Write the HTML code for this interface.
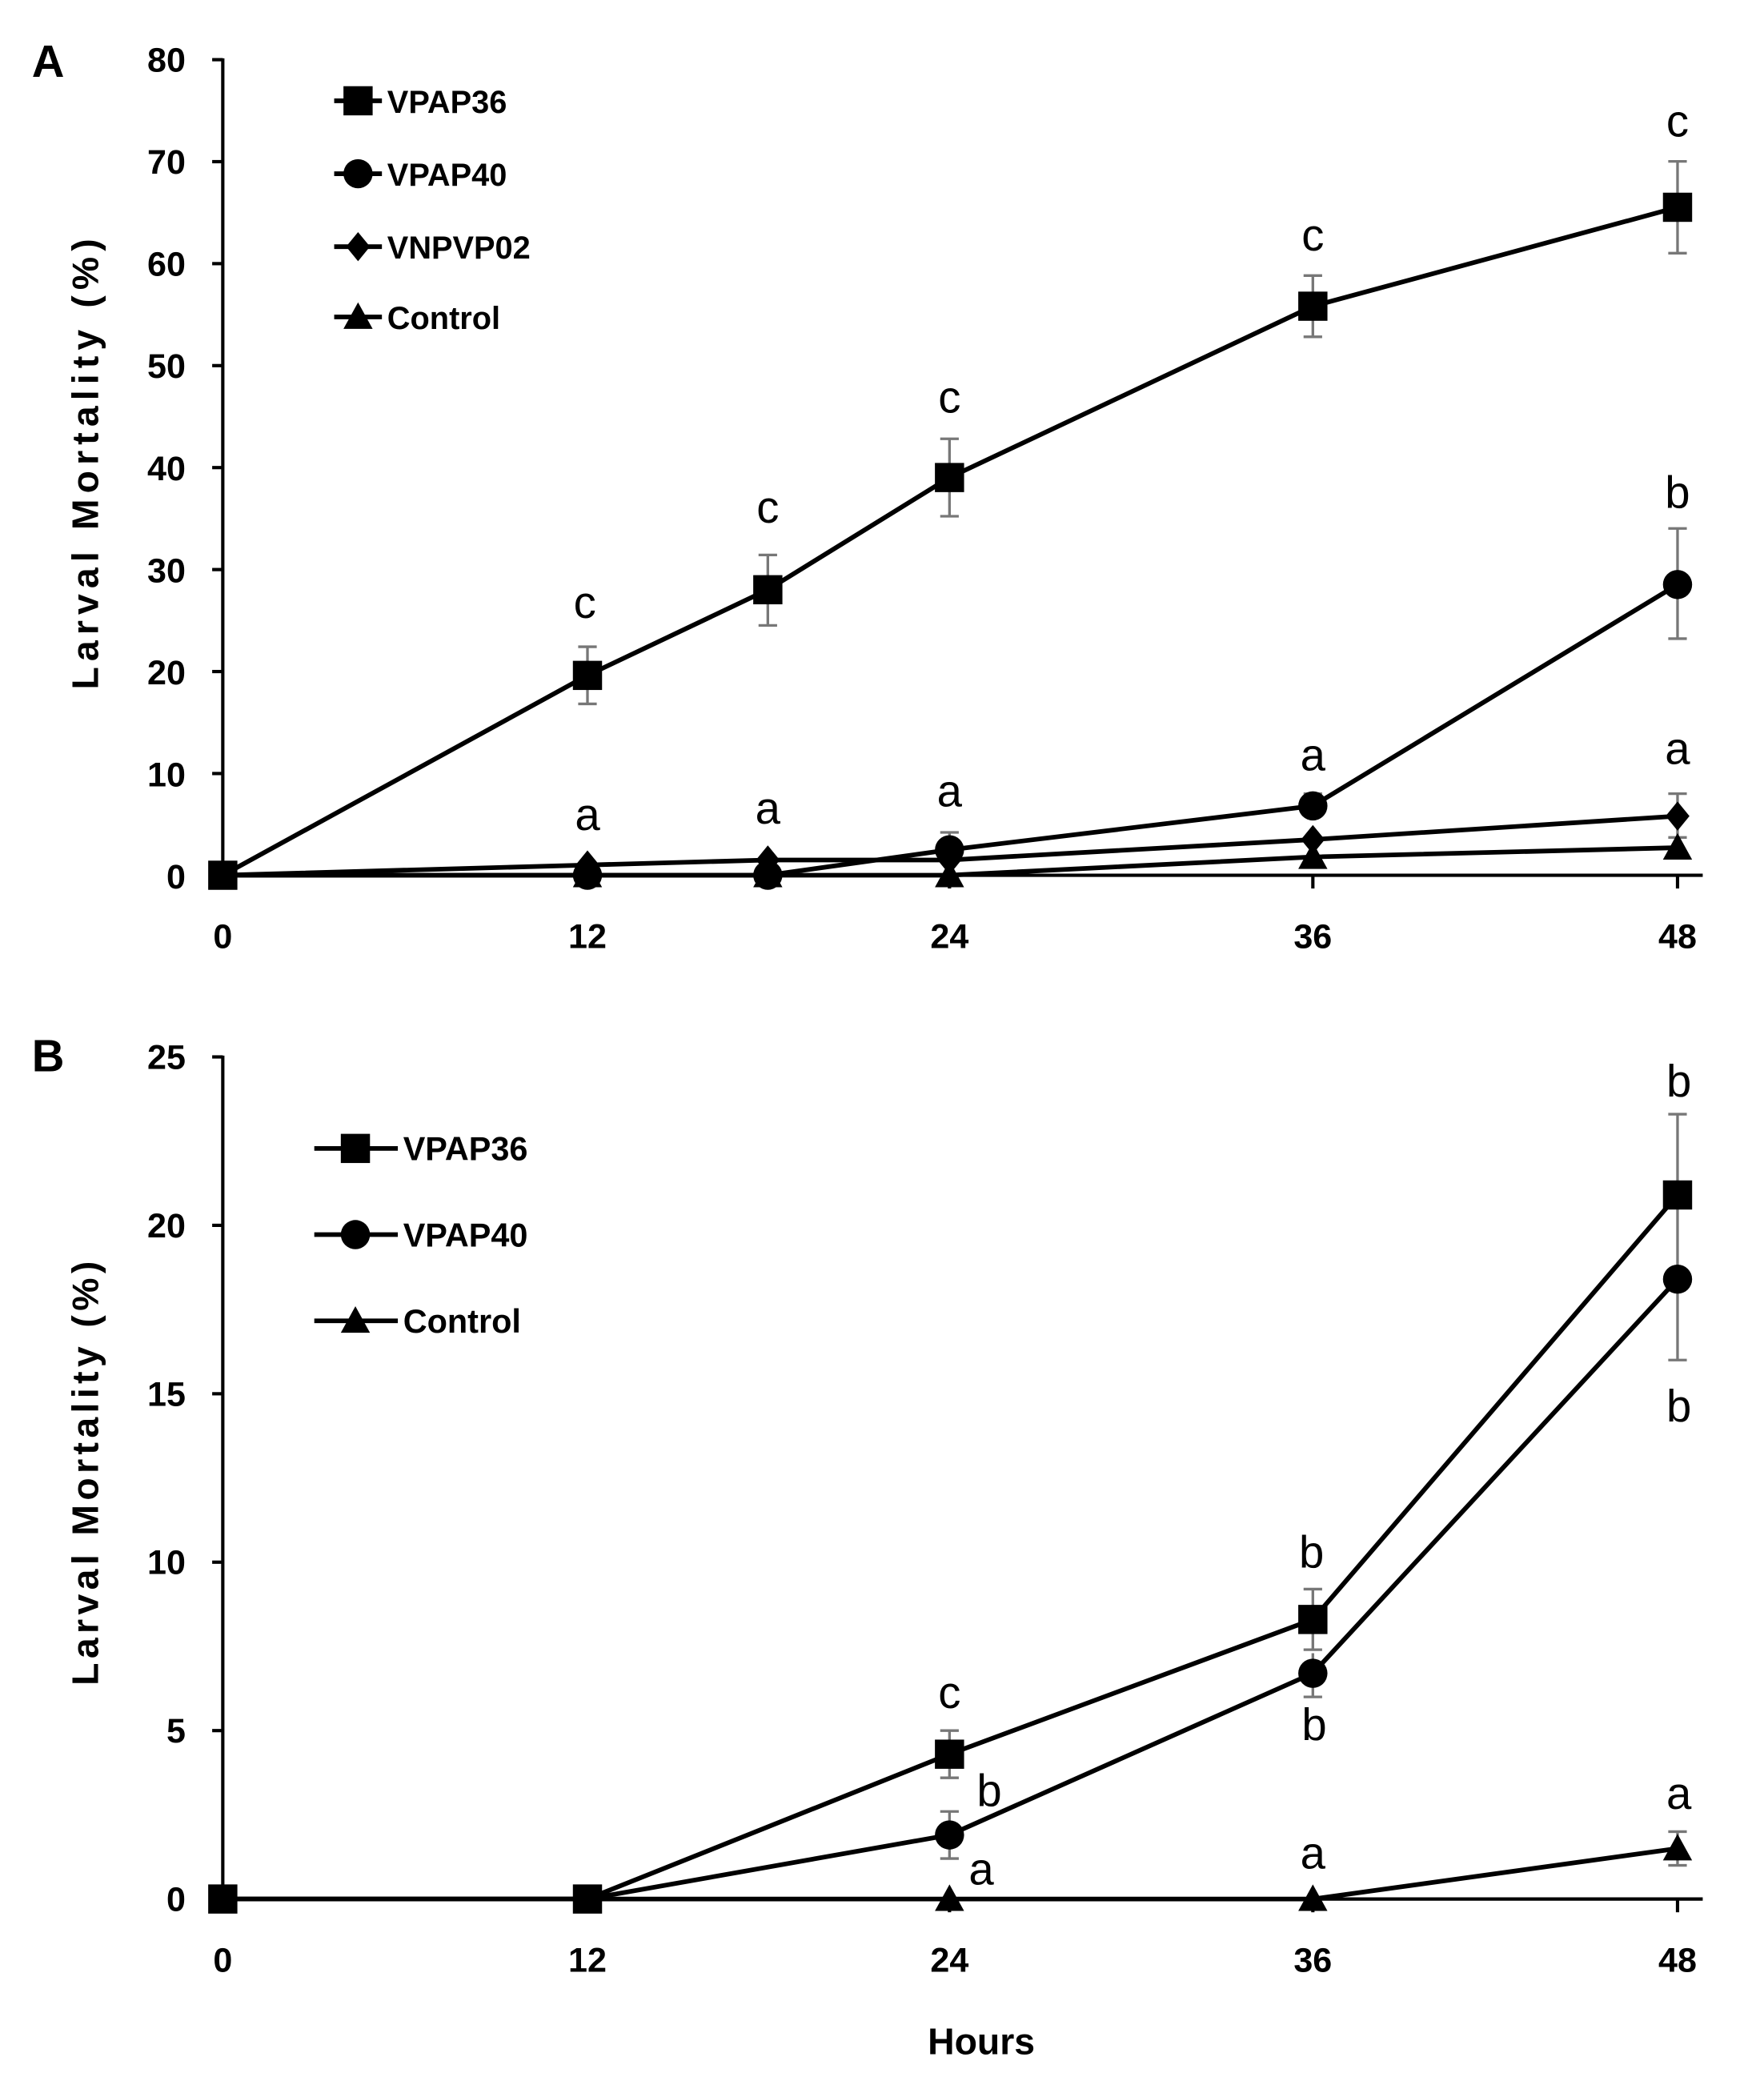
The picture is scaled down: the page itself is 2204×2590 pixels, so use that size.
<!DOCTYPE html>
<html><head><meta charset="utf-8"><style>html,body{margin:0;padding:0;background:#fff}svg{display:block}</style></head>
<body>
<svg width="2204" height="2590" viewBox="0 0 1330.2 1563.2" preserveAspectRatio="none" xmlns="http://www.w3.org/2000/svg" font-family="Liberation Sans, sans-serif">
<defs>
<g id="sq"><rect x="-11" y="-11" width="22" height="22" fill="#000"/></g>
<g id="ci"><circle r="11" fill="#000"/></g>
<g id="di"><polygon points="0,-11 9,0 0,11 -9,0" fill="#000"/></g>
<g id="tr"><polygon points="0,-11 11,9 -11,9" fill="#000"/></g>
</defs>
<rect width="1330.2" height="1563.2" fill="#fff"/>

<!-- Panel A -->
<text x="24" y="58" font-size="34" font-weight="bold">A</text>
<g stroke="#000" stroke-width="2.5" fill="none">
<line x1="168" y1="44" x2="168" y2="662"/>
<line x1="166" y1="660" x2="1284" y2="660"/>
<line x1="160" y1="45" x2="168" y2="45"/><line x1="160" y1="121.9" x2="168" y2="121.9"/><line x1="160" y1="198.8" x2="168" y2="198.8"/><line x1="160" y1="275.7" x2="168" y2="275.7"/><line x1="160" y1="352.6" x2="168" y2="352.6"/><line x1="160" y1="429.5" x2="168" y2="429.5"/><line x1="160" y1="506.4" x2="168" y2="506.4"/><line x1="160" y1="583.3" x2="168" y2="583.3"/><line x1="160" y1="660" x2="168" y2="660"/>
<line x1="443" y1="660" x2="443" y2="670"/><line x1="716" y1="660" x2="716" y2="670"/><line x1="990" y1="660" x2="990" y2="670"/><line x1="1265" y1="660" x2="1265" y2="670"/>
</g>
<g font-size="26" font-weight="bold" text-anchor="end">
<text x="140" y="54">80</text><text x="140" y="131">70</text><text x="140" y="208">60</text><text x="140" y="285">50</text><text x="140" y="362">40</text><text x="140" y="439">30</text><text x="140" y="516">20</text><text x="140" y="593">10</text><text x="140" y="670">0</text>
</g>
<g font-size="26" font-weight="bold" text-anchor="middle">
<text x="168" y="715">0</text><text x="443" y="715">12</text><text x="716" y="715">24</text><text x="990" y="715">36</text><text x="1265" y="715">48</text>
</g>
<text transform="translate(74,350) rotate(-90)" font-size="28" font-weight="bold" text-anchor="middle" textLength="340" lengthAdjust="spacing">Larval  Mortality  (%)</text>

<!-- error bars A -->
<g stroke="#777" stroke-width="2">
<path d="M443 487.7V530.8M436 487.7H450M436 530.8H450"/>
<path d="M579 418.5V471.6M572 418.5H586M572 471.6H586"/>
<path d="M716 330.9V389.3M709 330.9H723M709 389.3H723"/>
<path d="M990 207.8V254M983 207.8H997M983 254H997"/>
<path d="M1265 121.7V190.9M1258 121.7H1272M1258 190.9H1272"/>
<path d="M1265 398.5V481.6M1258 398.5H1272M1258 481.6H1272"/>
<path d="M990 598.5V617M983 598.5H997"/>
<path d="M716 627.7V652M709 627.7H723"/>
<path d="M1265 598.5V630.8M1258 598.5H1272"/>
<path d="M1265 631.5V645M1258 631.5H1272"/>
</g>
<g stroke="#000" stroke-width="3.5" fill="none" stroke-linejoin="round">
<polyline points="168,660 443,509.3 579,444.7 716,360.1 990,230.9 1265,156.3"/>
<polyline points="168,660 443,660 579,660 716,640.8 990,607.7 1265,440.8"/>
<polyline points="168,660 443,652.3 579,648.5 716,648.5 990,633.1 1265,615.4"/>
<polyline points="168,660 443,660 579,660 716,660 990,646.2 1265,639.2"/>
</g>
<use href="#tr" x="168" y="660"/><use href="#tr" x="443" y="660"/><use href="#tr" x="579" y="660"/><use href="#tr" x="716" y="660"/><use href="#tr" x="990" y="646.2"/><use href="#tr" x="1265" y="639.2"/>
<use href="#di" x="443" y="652.3"/><use href="#di" x="579" y="648.5"/><use href="#di" x="716" y="648.5"/><use href="#di" x="990" y="633.1"/><use href="#di" x="1265" y="615.4"/>
<use href="#ci" x="443" y="660"/><use href="#ci" x="579" y="660"/><use href="#ci" x="716" y="640.8"/><use href="#ci" x="990" y="607.7"/><use href="#ci" x="1265" y="440.8"/>
<use href="#sq" x="168" y="660"/><use href="#sq" x="443" y="509.3"/><use href="#sq" x="579" y="444.7"/><use href="#sq" x="716" y="360.1"/><use href="#sq" x="990" y="230.9"/><use href="#sq" x="1265" y="156.3"/>
<g font-size="34" text-anchor="middle">
<text x="441" y="466">c</text><text x="579" y="394">c</text><text x="716" y="311">c</text><text x="990" y="189">c</text><text x="1265" y="103">c</text>
<text x="1265" y="383">b</text>
<text x="443" y="626">a</text><text x="579" y="621">a</text><text x="716" y="608">a</text><text x="990" y="581">a</text><text x="1265" y="576">a</text>
</g>
<!-- legend A -->
<g stroke="#000" stroke-width="3.5">
<line x1="252" y1="76" x2="288" y2="76"/><line x1="252" y1="131" x2="288" y2="131"/><line x1="252" y1="186" x2="288" y2="186"/><line x1="252" y1="239" x2="288" y2="239"/>
</g>
<use href="#sq" x="270" y="76"/><use href="#ci" x="270" y="131"/><use href="#di" x="270" y="186"/><use href="#tr" x="270" y="239"/>
<g font-size="24" font-weight="bold">
<text x="292" y="85">VPAP36</text><text x="292" y="140">VPAP40</text><text x="292" y="195">VNPVP02</text><text x="292" y="248">Control</text>
</g>

<!-- Panel B -->
<text x="24" y="808" font-size="34" font-weight="bold">B</text>
<g stroke="#000" stroke-width="2.5" fill="none">
<line x1="168" y1="796" x2="168" y2="1434"/>
<line x1="166" y1="1432" x2="1284" y2="1432"/>
<line x1="160" y1="797" x2="168" y2="797"/><line x1="160" y1="924" x2="168" y2="924"/><line x1="160" y1="1051" x2="168" y2="1051"/><line x1="160" y1="1178" x2="168" y2="1178"/><line x1="160" y1="1305" x2="168" y2="1305"/><line x1="160" y1="1432" x2="168" y2="1432"/>
<line x1="443" y1="1432" x2="443" y2="1442"/><line x1="716" y1="1432" x2="716" y2="1442"/><line x1="990" y1="1432" x2="990" y2="1442"/><line x1="1265" y1="1432" x2="1265" y2="1442"/>
</g>
<g font-size="26" font-weight="bold" text-anchor="end">
<text x="140" y="806">25</text><text x="140" y="933">20</text><text x="140" y="1060">15</text><text x="140" y="1187">10</text><text x="140" y="1314">5</text><text x="140" y="1441">0</text>
</g>
<g font-size="26" font-weight="bold" text-anchor="middle">
<text x="168" y="1487">0</text><text x="443" y="1487">12</text><text x="716" y="1487">24</text><text x="990" y="1487">36</text><text x="1265" y="1487">48</text>
<text x="740" y="1549" font-size="28">Hours</text>
</g>
<text transform="translate(74,1111) rotate(-90)" font-size="28" font-weight="bold" text-anchor="middle" textLength="320" lengthAdjust="spacing">Larval Mortality (%)</text>
<g stroke="#777" stroke-width="2">
<path d="M716 1305V1340.6M709 1305H723M709 1340.6H723"/>
<path d="M990 1198.3V1244M983 1198.3H997M983 1244H997"/>
<path d="M1265 840.2V962M1258 840.2H1272"/>
<path d="M1265 964.6V1025.6M1258 1025.6H1272"/>
<path d="M716 1366V1401.5M709 1366H723M709 1401.5H723"/>
<path d="M990 1246.6V1279.6M983 1279.6H997"/>
<path d="M1265 1381.2V1406.6M1258 1381.2H1272M1258 1406.6H1272"/>
</g>
<g stroke="#000" stroke-width="3.5" fill="none" stroke-linejoin="round">
<polyline points="168,1432 443,1432 716,1322.8 990,1221.2 1265,901.1"/>
<polyline points="168,1432 443,1432 716,1383.7 990,1261.8 1265,964.6"/>
<polyline points="168,1432 443,1432 716,1432 990,1432 1265,1393.9"/>
</g>
<use href="#tr" x="716" y="1432"/><use href="#tr" x="990" y="1432"/><use href="#tr" x="1265" y="1393.9"/>
<use href="#ci" x="716" y="1383.7"/><use href="#ci" x="990" y="1261.8"/><use href="#ci" x="1265" y="964.6"/>
<use href="#sq" x="168" y="1432"/><use href="#sq" x="443" y="1432"/><use href="#sq" x="716" y="1322.8"/><use href="#sq" x="990" y="1221.2"/><use href="#sq" x="1265" y="901.1"/>
<g font-size="34" text-anchor="middle">
<text x="1266" y="827">b</text><text x="1266" y="1072">b</text><text x="989" y="1182">b</text><text x="991" y="1312">b</text>
<text x="716" y="1288">c</text><text x="746" y="1362">b</text>
<text x="740" y="1421">a</text><text x="990" y="1409">a</text><text x="1266" y="1364">a</text>
</g>
<g stroke="#000" stroke-width="3.5">
<line x1="237" y1="866" x2="300" y2="866"/><line x1="237" y1="931" x2="300" y2="931"/><line x1="237" y1="996" x2="300" y2="996"/>
</g>
<use href="#sq" x="268" y="866"/><use href="#ci" x="268" y="931"/><use href="#tr" x="268" y="996"/>
<g font-size="25" font-weight="bold">
<text x="304" y="875">VPAP36</text><text x="304" y="940">VPAP40</text><text x="304" y="1005">Control</text>
</g>
</svg>
</body></html>
